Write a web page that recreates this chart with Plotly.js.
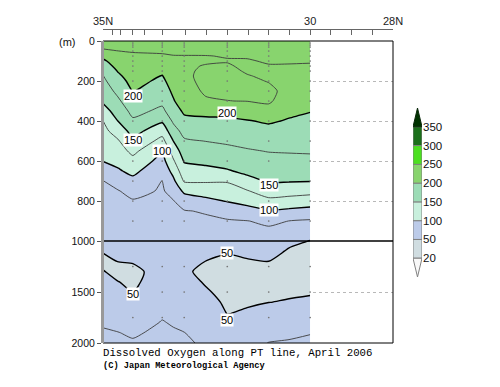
<!DOCTYPE html>
<html>
<head>
<meta charset="utf-8">
<script src="https://cdn.plot.ly/plotly-3.0.1.min.js"></script>
<style>html,body{margin:0;padding:0;background:#fff}#chart{width:500px;height:387px}</style>
</head>
<body>
<div id="chart"></div>
<script>
// Latitude of each data column (deg N)
const lats = [35.0, 34.64, 34.28, 33.57, 33.30, 33.04, 32.52, 32.0, 31.52, 31.0, 30.51, 30.0];
// Depth of each data row (m)
const depths = [0, 25, 50, 75, 100, 125, 150, 175, 200, 250, 300, 350, 400, 450, 500, 550, 600, 650,
  700, 750, 800, 850, 900, 950, 1000, 1100, 1200, 1300, 1400, 1500, 1600, 1700, 1800, 1900, 2000];
// Dissolved oxygen (umol/kg), one row per depth, one value per latitude column
const oxygen = [
  [235, 235, 236, 237, 237, 237, 236, 236, 235, 234, 234, 233],
  [229.4, 230, 231, 232.4, 232.7, 232.7, 232.3, 232.6, 232.1, 232, 232, 231.2],
  [221.9, 224.9, 226, 227.8, 228.4, 228.4, 228.7, 229.1, 229.1, 230.1, 230, 229.4],
  [206.3, 219.0, 222.6, 222.6, 224.4, 224.5, 224.6, 225.7, 226.2, 228.1, 228, 227.5],
  [195.6, 213.1, 219.5, 216.7, 221.6, 222, 222.5, 224.2, 224, 226.2, 226, 225.7],
  [188.2, 207.1, 216.5, 210.7, 218.8, 221.8, 226.2, 226.4, 222.3, 224.3, 224.3, 224.1],
  [180.9, 201.2, 213.4, 204.8, 215.9, 221.5, 228.5, 228.2, 223.7, 222.7, 223.5, 222.7],
  [174.2, 196, 210.4, 199.2, 213.1, 221.3, 230, 229.9, 225.7, 222.9, 222.9, 221.3],
  [170, 191, 207.3, 195.5, 210.2, 221, 229, 230.5, 227.5, 224.4, 222.3, 219.9],
  [161.7, 181, 201.2, 187.9, 204.5, 219.1, 226.9, 227.7, 228.9, 227.9, 221, 217],
  [153.3, 170.8, 192, 180.3, 198.1, 214, 223.4, 224.8, 225.4, 228, 213.2, 208.9],
  [140, 160.4, 182, 170, 188.5, 204, 207.1, 208.3, 212.1, 217.6, 205.4, 200.8],
  [124.4, 150.2, 171.3, 153.3, 178.8, 193.5, 194.6, 195.7, 198.6, 202.9, 197.9, 194.8],
  [118.5, 135.3, 158.8, 134.6, 165.6, 182.6, 185, 187.1, 190.1, 193.1, 190.8, 189],
  [112.5, 122.6, 145.6, 117.2, 150.3, 172, 175.4, 178.4, 181.5, 184.5, 183.8, 183.1],
  [106.5, 114.5, 130.9, 101.6, 136.1, 162, 165.5, 169, 172.9, 175.9, 176.7, 177.3],
  [100.6, 106.5, 117.9, 91.3, 122.2, 152, 155.6, 159, 164.1, 168, 168.6, 169.4],
  [86.8, 97.2, 106, 81.7, 108.3, 140, 143.1, 147.9, 155.3, 160.2, 160.1, 160.2],
  [74.4, 83.3, 93.8, 74.5, 95, 127.5, 127.5, 127.1, 142.3, 152.3, 151.7, 150.9],
  [71.5, 73.9, 81.3, 72.9, 82.5, 105, 110.8, 113.8, 123.4, 137.5, 135.3, 132.7],
  [68.6, 71.3, 73.6, 71.3, 74.2, 85.7, 93.8, 101.3, 107.8, 118.8, 115.8, 112.5],
  [65.7, 68.7, 70.7, 69.6, 72.0, 73.9, 76.7, 85, 91.1, 98.1, 95.2, 91.7],
  [62.7, 66.1, 67.9, 68.0, 69.9, 71.1, 71.7, 72.9, 74.5, 78.8, 74.8, 72.4],
  [59.8, 63.4, 65.1, 66.4, 67.8, 68.4, 68.1, 67.6, 69.7, 71.5, 65, 59.2],
  [56.9, 60.8, 62.2, 64.8, 65.7, 65.6, 64.5, 62.4, 65.1, 67.1, 55, 49.5],
  [51.1, 55.5, 56.6, 61.5, 61.5, 60.1, 57.2, 50.8, 53, 58.4, 47.5, 46.5],
  [45, 50.3, 50.9, 58.3, 57.2, 54.6, 49.8, 48, 48.9, 49.9, 45.8, 43.5],
  [51.1, 44, 46.9, 55, 53, 52.3, 46.5, 45.5, 46.4, 46.9, 43, 43.3],
  [55.4, 50.4, 46.6, 59.3, 57.1, 56.1, 48.4, 43, 44, 44, 45.5, 45.9],
  [59.7, 55, 49.7, 63.6, 61.1, 59.9, 51.8, 45.1, 46.2, 46.9, 47.9, 48.5],
  [64.1, 60, 55.2, 67.9, 65.2, 63.7, 55.9, 47.2, 48.4, 49.8, 51.1, 52.9],
  [68.4, 65, 61, 72.2, 69.3, 67.4, 60, 49.3, 51.4, 56, 57.8, 60],
  [72.7, 70, 66.8, 76, 73.4, 71.2, 64, 52.9, 56.9, 62.5, 64.4, 67.1],
  [77.2, 75.5, 72.6, 79, 76.9, 75.3, 68, 57.5, 62.5, 69, 71, 74.1],
  [82, 79, 77, 82, 80, 78, 72, 62, 68, 75.5, 77, 79]
];
// Observation stations and sampled depths (dots)
const stationLats = [34.28, 33.57, 33.04, 32.0, 31.0, 30.0];
const sampleDepths = [10, 20, 30, 50, 75, 100, 125, 150, 200, 250, 300, 400, 500, 600, 700, 800, 900, 1250, 1500, 1750];
// Colour legend levels and band colours
const levels = [20, 50, 100, 150, 200, 250, 300, 350];
const bandColors = ['#d0dde1', '#bccbe9', '#c8f0dd', '#9cdcb6', '#88d46e', '#4ce020', '#1b701b'];
const underColor = '#f8f8f8';
const overColor = '#003300';
// Thin (intermediate) contour levels
const thinLevels = [75, 125, 175, 225];
// Top axis ticks
const latTicks = [35, 34.78, 34.57, 34.28, 34.0, 33.57, 33.0, 32.5, 32.0, 31.5, 31.0, 30.5, 30.0, 29.5, 29.0, 28.5, 28.0];
const latTickText = ['35N', '', '', '', '', '', '', '', '', '', '', '', '30', '', '', '', '28N'];
// Contour labels
const labelText = ['200', '200', '150', '100', '150', '100', '50', '50', '50'];
const labelLat = [34.28, 32.0, 34.28, 33.57, 31.0, 31.0, 32.0, 34.28, 32.0];
const labelDepth = [275, 360, 495, 550, 720, 845, 1118, 1520, 1770];

// fill colour scale: band colour sampled at band centres (start + (i+0.5)*size)
const nb = bandColors.length + 1;
const allBands = bandColors.concat([overColor]);
const cscale = [];
allBands.forEach((c, i) => {
  const a = i === 0 ? 0 : (i - 0.5) / (nb - 1);
  const b = i === nb - 1 ? 1 : (i + 0.5) / (nb - 1);
  cscale.push([a, c]); cscale.push([b, c]);
});

const W = 500, H = 387;
const px = v => v / W, py = v => (H - v) / H;
const xDom = [px(103), px(393)];
const yUp = [py(241), py(41)];
const yLo = [py(343), py(241)];

function fillTrace(ya) {
  return {
    type: 'contour', x: lats, y: depths, z: oxygen, xaxis: 'x', yaxis: ya,
    autocontour: false, zmin: 25, zmax: 375,
    contours: {coloring: 'fill', start: 50, end: 350, size: 50, showlines: true},
    colorscale: cscale, showscale: false, hoverinfo: 'skip',
    line: {color: '#000', width: 1.4, smoothing: 0.6}
  };
}
function thinTrace(ya, lev) {
  return {
    type: 'contour', x: lats, y: depths, z: oxygen, xaxis: 'x', yaxis: ya,
    autocontour: false,
    contours: {coloring: 'none', start: lev, end: lev, size: 50, showlines: true},
    showscale: false, hoverinfo: 'skip',
    line: {color: '#3c3c3c', width: 0.9, smoothing: 0.6}
  };
}
const dotX = [], dotY = [];
stationLats.forEach(la => sampleDepths.forEach(d => { dotX.push(la); dotY.push(d); }));
function dots(ya) {
  return {type: 'scatter', mode: 'markers', x: dotX, y: dotY, xaxis: 'x', yaxis: ya,
    marker: {size: 1.7, color: '#767676'}, hoverinfo: 'skip', showlegend: false};
}
const idx = bandColors.map((c, i) => i);
const legendBars = {
  type: 'bar', x: idx.map(() => 0), y: idx.map(() => 1), base: idx, width: 1,
  marker: {color: bandColors, line: {color: '#808080', width: 1}},
  xaxis: 'x3', yaxis: 'y3', hoverinfo: 'skip', showlegend: false
};
const underTri = {type: 'scatter', mode: 'lines', x: [-0.5, 0, 0.5, -0.5], y: [0, -1, 0, 0], fill: 'toself',
  fillcolor: underColor, line: {color: '#808080', width: 1}, xaxis: 'x3', yaxis: 'y3', hoverinfo: 'skip', showlegend: false};
const nBand = bandColors.length;
const overTri = {type: 'scatter', mode: 'lines', x: [-0.5, 0, 0.5, -0.5], y: [nBand, nBand + 1, nBand, nBand], fill: 'toself',
  fillcolor: overColor, line: {color: '#0a280a', width: 1}, xaxis: 'x3', yaxis: 'y3', hoverinfo: 'skip', showlegend: false};

const data = [fillTrace('y')];
thinLevels.forEach(l => data.push(thinTrace('y', l)));
data.push(dots('y'));
data.push(fillTrace('y2'));
thinLevels.forEach(l => data.push(thinTrace('y2', l)));
data.push(dots('y2'), legendBars, underTri, overTri);

const tickFont = {family: 'Liberation Sans, Arial, sans-serif', size: 10.5, color: '#111'};
const annotations = labelText.map((t, i) => ({
  text: t, x: labelLat[i], y: labelDepth[i], xref: 'x', yref: labelDepth[i] > 1000 ? 'y2' : 'y',
  showarrow: false, bgcolor: '#ffffff', borderpad: 0, xanchor: 'center', yanchor: 'middle',
  font: {family: 'Liberation Sans, Arial, sans-serif', size: 11, color: '#000'}
}));
annotations.push({text: '(m)', x: px(67), y: py(42), xref: 'paper', yref: 'paper', showarrow: false,
  xanchor: 'center', yanchor: 'middle',
  font: {family: 'Liberation Sans, Arial, sans-serif', size: 11, color: '#111'}});
annotations.push({text: 'Dissolved Oxygen along PT line, April 2006', x: px(101), y: py(353), xref: 'paper', yref: 'paper',
  xanchor: 'left', yanchor: 'middle', showarrow: false, font: {family: 'Liberation Mono, monospace', size: 10.7, color: '#000'}});
annotations.push({text: '(C) Japan Meteorological Agency', x: px(101), y: py(366), xref: 'paper', yref: 'paper',
  xanchor: 'left', yanchor: 'middle', showarrow: false, font: {family: 'Liberation Mono, monospace', size: 8.7, color: '#000', weight: 'bold'}});

const layout = {
  width: W, height: H, margin: {l: 0, r: 0, t: 0, b: 0},
  paper_bgcolor: '#fff', plot_bgcolor: '#fff', showlegend: false,
  xaxis: {domain: xDom, range: [35, 28], anchor: 'free', position: py(29), side: 'top',
    tickvals: latTicks, ticktext: latTickText, ticks: 'inside', ticklen: 5, tickcolor: '#666',
    showline: true, linecolor: '#666', linewidth: 1, showgrid: false, zeroline: false,
    tickfont: {family: 'Liberation Sans, Arial, sans-serif', size: 11, color: '#222'}},
  yaxis: {domain: yUp, range: [1000, 0], anchor: 'x', tickvals: [0, 200, 400, 600, 800, 1000],
    ticks: 'outside', ticklen: 4, tickcolor: '#555', showline: true, linecolor: '#999', linewidth: 2,
    showgrid: true, gridcolor: '#b8b8b8', griddash: 'dot', gridwidth: 1, zeroline: false, tickfont: tickFont},
  yaxis2: {domain: yLo, range: [2000, 1000], anchor: 'x', tickvals: [1500, 2000],
    ticks: 'outside', ticklen: 4, tickcolor: '#555', showline: true, linecolor: '#999', linewidth: 2,
    showgrid: true, gridcolor: '#b8b8b8', griddash: 'dot', gridwidth: 1, zeroline: false, tickfont: tickFont},
  xaxis3: {domain: [px(413), px(422)], range: [-0.5, 0.5], anchor: 'y3', visible: false, fixedrange: true},
  yaxis3: {domain: [py(277), py(108)], range: [-1, nBand + 1], anchor: 'x3', side: 'right',
    tickvals: levels.map((l, i) => i), ticktext: levels.map(String), ticks: '', showgrid: false, zeroline: false,
    showline: false, tickfont: {family: 'Liberation Sans, Arial, sans-serif', size: 11.5, color: '#111'}},
  shapes: [
    {type: 'rect', xref: 'paper', yref: 'paper', x0: xDom[0], x1: xDom[1], y0: yLo[0], y1: yUp[1],
      line: {color: '#000', width: 1}, layer: 'above'},
    {type: 'line', xref: 'paper', yref: 'paper', x0: xDom[0], x1: xDom[1], y0: yUp[0], y1: yUp[0],
      line: {color: '#000', width: 1.3}, layer: 'above'},
    {type: 'line', xref: 'paper', yref: 'paper', x0: xDom[0], x1: xDom[0], y0: yLo[0], y1: yUp[1],
      line: {color: '#999', width: 2}, layer: 'above'}
  ],
  annotations: annotations
};
Plotly.newPlot('chart', data, layout, {staticPlot: true, displayModeBar: false});
</script>
</body>
</html>
